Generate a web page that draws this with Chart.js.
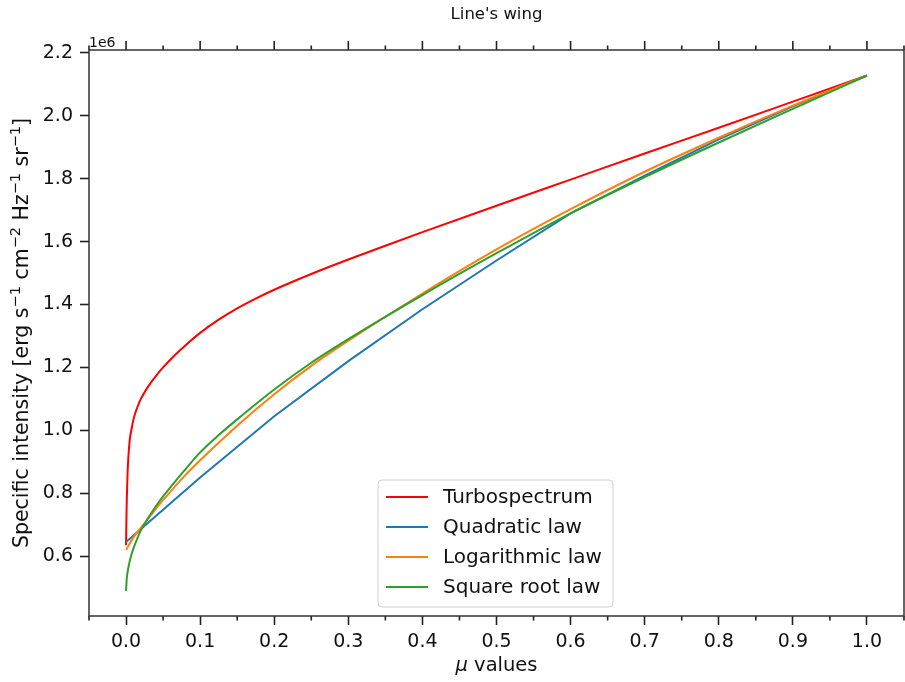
<!DOCTYPE html>
<html>
<head>
<meta charset="utf-8">
<script src="https://cdn.jsdelivr.net/npm/chart.js@4.4.1/dist/chart.umd.min.js"></script>
<style>
  html, body { margin: 0; padding: 0; background: #fff; }
  #wrap { width: 905px; height: 682px; }
</style>
</head>
<body>
<div id="wrap"><canvas id="chart" width="905" height="682"></canvas></div>
<script>
// values are in units of 1e6 erg s^-1 cm^-2 Hz^-1 sr^-1 (see offset label)
const muTurbo = [0, 0.0005, 0.001, 0.002, 0.003, 0.005, 0.0075, 0.01, 0.015, 0.02, 0.03, 0.04, 0.05, 0.065, 0.08, 0.1, 0.125, 0.15, 0.175, 0.2, 0.25, 0.3, 0.35, 0.4, 0.5, 0.6, 0.7, 0.8, 0.9, 1.0];
const turbo   = [0.635, 0.72, 0.78, 0.86, 0.91, 0.97, 1.005, 1.035, 1.072, 1.10, 1.14, 1.172, 1.20, 1.237, 1.27, 1.31, 1.352, 1.388, 1.419, 1.447, 1.497, 1.543, 1.587, 1.63, 1.714, 1.797, 1.88, 1.962, 2.045, 2.128];

const muQuad = [0, 0.1, 0.2, 0.3, 0.4, 0.5, 0.6, 0.7, 0.8, 0.9, 1.0];
const quad   = [0.645, 0.85, 1.045, 1.22, 1.385, 1.54, 1.69, 1.81, 1.925, 2.03, 2.128];

const muLog = [0, 0.01, 0.02, 0.03, 0.04, 0.05, 0.075, 0.1, 0.15, 0.2, 0.25, 0.3, 0.4, 0.5, 0.6, 0.7, 0.8, 0.9, 1.0];
const logLaw = [0.62, 0.66, 0.69, 0.72, 0.75, 0.778, 0.845, 0.905, 1.015, 1.115, 1.205, 1.285, 1.435, 1.575, 1.703, 1.822, 1.93, 2.032, 2.128];

const muSqrt = [0, 0.001, 0.0025, 0.005, 0.0075, 0.01, 0.015, 0.02, 0.03, 0.04, 0.05, 0.065, 0.08, 0.1, 0.125, 0.15, 0.2, 0.25, 0.3, 0.4, 0.5, 0.6, 0.7, 0.8, 0.9, 1.0];
const sqrtLaw = [0.49, 0.53, 0.555, 0.585, 0.607, 0.625, 0.655, 0.682, 0.722, 0.758, 0.79, 0.834, 0.876, 0.93, 0.985, 1.035, 1.13, 1.215, 1.29, 1.43, 1.563, 1.69, 1.805, 1.915, 2.022, 2.128];

const seriesNames = ['Turbospectrum', 'Quadratic law', 'Logarithmic law', 'Square root law'];
const seriesColors = ['#ff0000', '#1f77b4', '#ff7f0e', '#2ca02c'];

const xTicks = [0.0, 0.1, 0.2, 0.3, 0.4, 0.5, 0.6, 0.7, 0.8, 0.9, 1.0];
const xMinorTicks = [-0.05, 0.05, 0.15, 0.25, 0.35, 0.45, 0.55, 0.65, 0.75, 0.85, 0.95, 1.05];
const yTicks = [0.6, 0.8, 1.0, 1.2, 1.4, 1.6, 1.8, 2.0, 2.2];

// y label pieces: [text, isSuperscript]
const yLabelParts = [
    ['Specific intensity [erg s', false], ['\u22121', true],
    [' cm', false], ['\u22122', true],
    [' Hz', false], ['\u22121', true],
    [' sr', false], ['\u22121', true],
    [']', false]
];

const FONT = "'DejaVu Sans', sans-serif";
const INK = '#111';

function pts(xs, ys) {
    return xs.map((x, i) => ({ x: x, y: ys[i] }));
}

const allX = [muTurbo, muQuad, muLog, muSqrt];
const allY = [turbo, quad, logLaw, sqrtLaw];

const datasets = seriesNames.map((name, i) => ({
    label: name,
    data: pts(allX[i], allY[i]),
    borderColor: seriesColors[i],
    backgroundColor: seriesColors[i],
    borderWidth: 2,
    pointRadius: 0,
    showLine: true,
    tension: 0,
    cubicInterpolationMode: i === 1 ? 'default' : 'monotone',
    order: seriesNames.length - i   // later series drawn on top
}));

// frame, minor/top ticks, titles, offset text and legend
const decor = {
    id: 'decor',
    afterDraw(chart) {
        const ctx = chart.ctx;
        const a = chart.chartArea;
        const xs = chart.scales.x;
        ctx.save();
        ctx.strokeStyle = '#222';
        ctx.lineWidth = 1.6;
        ctx.beginPath();
        xTicks.forEach(v => {
            const p = xs.getPixelForValue(v);
            ctx.moveTo(p, a.top); ctx.lineTo(p, a.top - 9);
        });
        xMinorTicks.forEach(v => {
            const p = xs.getPixelForValue(v);
            ctx.moveTo(p, a.top); ctx.lineTo(p, a.top - 4.5);
            ctx.moveTo(p, a.bottom); ctx.lineTo(p, a.bottom + 4.5);
        });
        ctx.stroke();

        ctx.strokeStyle = '#333';
        ctx.lineWidth = 1.5;
        ctx.strokeRect(a.left, a.top, a.right - a.left, a.bottom - a.top);

        ctx.fillStyle = INK;
        ctx.textAlign = 'center';
        ctx.textBaseline = 'middle';
        ctx.font = '16.5px ' + FONT;
        ctx.fillText("Line's wing", (a.left + a.right) / 2, 15);

        ctx.textAlign = 'left';
        ctx.textBaseline = 'alphabetic';
        ctx.font = '14px ' + FONT;
        ctx.fillText('1e6', a.left, 47);

        // x label with italic mu
        ctx.font = 'italic 19.5px ' + FONT;
        const muW = ctx.measureText('\u03bc').width;
        ctx.font = '19.5px ' + FONT;
        const restW = ctx.measureText(' values').width;
        let lx = (a.left + a.right) / 2 - (muW + restW) / 2;
        ctx.font = 'italic 19.5px ' + FONT;
        ctx.fillText('\u03bc', lx, 671);
        ctx.font = '19.5px ' + FONT;
        ctx.fillText(' values', lx + muW, 671);

        // y label with real superscripts
        const base = '20.5px ' + FONT, sup = '14.5px ' + FONT;
        let total = 0;
        yLabelParts.forEach(p => { ctx.font = p[1] ? sup : base; total += ctx.measureText(p[0]).width; });
        ctx.save();
        ctx.translate(28, (a.top + a.bottom) / 2);
        ctx.rotate(-Math.PI / 2);
        ctx.textAlign = 'left';
        ctx.textBaseline = 'alphabetic';
        let tx = -total / 2;
        yLabelParts.forEach(p => {
            ctx.font = p[1] ? sup : base;
            ctx.fillText(p[0], tx, p[1] ? -8 : 0);
            tx += ctx.measureText(p[0]).width;
        });
        ctx.restore();

        // legend
        const bx = 378, by = 480, bw = 235, bh = 127, r = 4;
        ctx.beginPath();
        ctx.moveTo(bx + r, by);
        ctx.arcTo(bx + bw, by, bx + bw, by + bh, r);
        ctx.arcTo(bx + bw, by + bh, bx, by + bh, r);
        ctx.arcTo(bx, by + bh, bx, by, r);
        ctx.arcTo(bx, by, bx + bw, by, r);
        ctx.closePath();
        ctx.fillStyle = 'rgba(255,255,255,0.8)';
        ctx.fill();
        ctx.strokeStyle = '#d0d0d0';
        ctx.lineWidth = 1;
        ctx.stroke();

        ctx.font = '20px ' + FONT;
        ctx.textAlign = 'left';
        ctx.textBaseline = 'middle';
        chart.data.datasets.forEach((ds, i) => {
            const ry = 497 + i * 30;
            ctx.strokeStyle = ds.borderColor;
            ctx.lineWidth = 2;
            ctx.beginPath();
            ctx.moveTo(386, ry); ctx.lineTo(428, ry);
            ctx.stroke();
            ctx.fillStyle = INK;
            ctx.fillText(ds.label, 443, ry + 1);
        });
        ctx.restore();
    }
};

new Chart(document.getElementById('chart'), {
    type: 'scatter',
    data: { datasets: datasets },
    options: {
        responsive: false,
        animation: false,
        devicePixelRatio: 1,
        layout: { padding: { top: 50, right: 1, left: 0, bottom: 0 } },
        plugins: { legend: { display: false }, tooltip: { enabled: false }, title: { display: false } },
        scales: {
            x: {
                type: 'linear',
                position: 'bottom',
                min: -0.05,
                max: 1.05,
                afterBuildTicks: s => { s.ticks = xTicks.map(v => ({ value: v })); },
                afterFit: s => { s.height = 66; },
                ticks: {
                    color: INK,
                    font: { family: FONT, size: 19 },
                    padding: 6,
                    maxRotation: 0,
                    autoSkip: false,
                    callback: v => Number(v).toFixed(1)
                },
                grid: { drawOnChartArea: false, drawTicks: true, tickLength: 9, tickColor: '#222', tickWidth: 1.6 },
                border: { display: false }
            },
            y: {
                type: 'linear',
                position: 'left',
                min: 0.41,
                max: 2.209,
                afterBuildTicks: s => { s.ticks = yTicks.map(v => ({ value: v })); },
                afterFit: s => { s.width = 89; },
                ticks: {
                    color: INK,
                    font: { family: FONT, size: 19 },
                    padding: 7,
                    autoSkip: false,
                    callback: v => Number(v).toFixed(1)
                },
                grid: { drawOnChartArea: false, drawTicks: true, tickLength: 9, tickColor: '#222', tickWidth: 1.6 },
                border: { display: false }
            }
        }
    },
    plugins: [decor]
});
</script>
</body>
</html>
